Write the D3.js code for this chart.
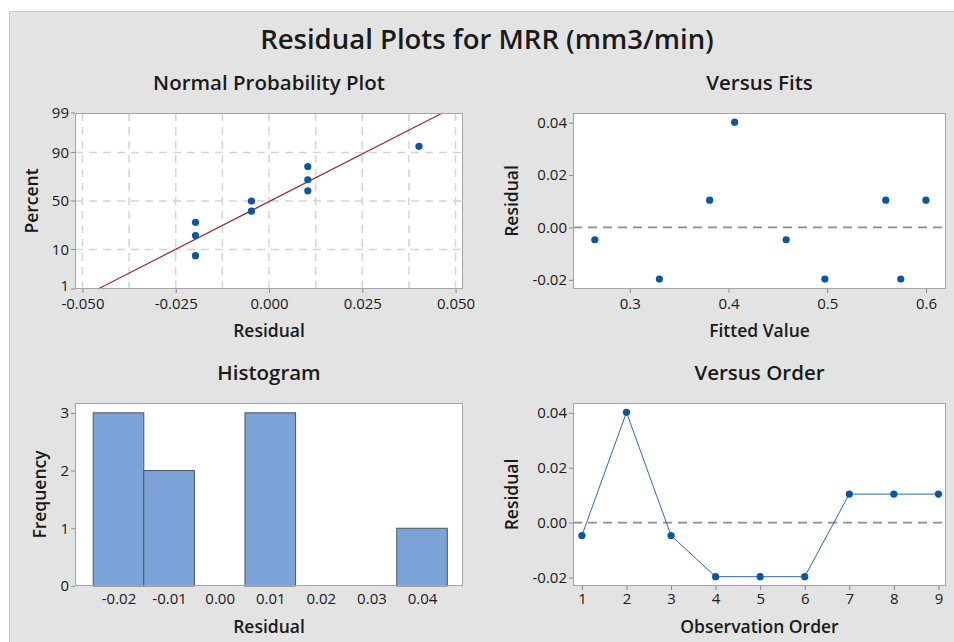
<!DOCTYPE html>
<html><head><meta charset="utf-8">
<script src="https://cdn.jsdelivr.net/npm/d3@7"></script>
<style>
body{margin:0;background:#fff;}
svg{display:block;font-family:"Open Sans",sans-serif;}
</style></head>
<body><svg id="c" width="954" height="642"></svg>
<script>
// ---- data ----
const observations = [1,2,3,4,5,6,7,8,9];
const residuals = [-0.0047, 0.0402, -0.0047, -0.0197, -0.0197, -0.0197, 0.0104, 0.0104, 0.0104];
const fits = [0.2646, 0.4062, 0.4584, 0.3300, 0.4976, 0.5745, 0.3809, 0.5593, 0.6000];
const nppPercent = [7.4, 18.1, 28.7, 39.4, 50.0, 60.6, 71.3, 81.9, 92.6];
const nppPercentTicks = [1, 10, 50, 90, 99];
const nppResidTicks = [-0.050, -0.025, 0.000, 0.025, 0.050];
const nppGridX = [-0.05, -0.0375, -0.025, -0.0125, 0, 0.0125, 0.025, 0.0375, 0.05];
const histBinCenters = [-0.02, -0.01, 0.00, 0.01, 0.02, 0.03, 0.04];
const histCounts = [3, 2, 0, 3, 0, 0, 1];
const histBinWidth = 0.01;
const freqTicks = [0, 1, 2, 3];
const residTicks = [-0.02, 0.00, 0.02, 0.04];
const fitTicks = [0.3, 0.4, 0.5, 0.6];

// inverse normal CDF (Acklam)
function qnorm(p){
  const a=[-3.969683028665376e+01,2.209460984245205e+02,-2.759285104469687e+02,1.383577518672690e+02,-3.066479806614716e+01,2.506628277459239e+00];
  const b=[-5.447609879822406e+01,1.615858368580409e+02,-1.556989798598866e+02,6.680131188771972e+01,-1.328068155288572e+01];
  const c=[-7.784894002430293e-03,-3.223964580411365e-01,-2.400758277161838e+00,-2.549732539343734e+00,4.374664141464968e+00,2.938163982698783e+00];
  const d=[7.784695709041462e-03,3.224671290700398e-01,2.445134137142996e+00,3.754408661907416e+00];
  const pl=0.02425;
  let q,r;
  if(p<pl){q=Math.sqrt(-2*Math.log(p));return (((((c[0]*q+c[1])*q+c[2])*q+c[3])*q+c[4])*q+c[5])/((((d[0]*q+d[1])*q+d[2])*q+d[3])*q+1);}
  if(p>1-pl){q=Math.sqrt(-2*Math.log(1-p));return -(((((c[0]*q+c[1])*q+c[2])*q+c[3])*q+c[4])*q+c[5])/((((d[0]*q+d[1])*q+d[2])*q+d[3])*q+1);}
  q=p-0.5;r=q*q;
  return (((((a[0]*r+a[1])*r+a[2])*r+a[3])*r+a[4])*r+a[5])*q/(((((b[0]*r+b[1])*r+b[2])*r+b[3])*r+b[4])*r+1);
}

const loc = d3.formatLocale({decimal:".",thousands:",",grouping:[3],currency:["",""],minus:"-"});
const svg = d3.select("#c");
const BG="#e3e3e3", PT="#0a56a0", TXT="#1a1a1a", TICKFS=15;
// background
svg.append("rect").attr("x",9).attr("y",11).attr("width",945).attr("height",631).attr("fill",BG);
svg.append("path").attr("d","M9.5,642V11.5H954").attr("fill","none").attr("stroke","#c6c6c6");

svg.append("text").attr("x",487).attr("y",49).attr("text-anchor","middle")
  .attr("font-size",27.5).attr("font-weight",600).attr("fill",TXT).text("Residual Plots for MRR (mm3/min)");

function panel(x0,x1,y0,y1,title){
  const g=svg.append("g");
  g.append("rect").attr("x",x0).attr("y",y0).attr("width",x1-x0).attr("height",y1-y0).attr("fill","#fff");
  g.append("text").attr("x",(x0+x1)/2).attr("y",y0-23).attr("text-anchor","middle")
    .attr("font-size",20.5).attr("font-weight",600).attr("fill",TXT).text(title);
  return g;
}
function border(g,x0,x1,y0,y1){
  g.append("rect").attr("x",x0+0.5).attr("y",y0+0.5).attr("width",x1-x0-1).attr("height",y1-y0-1)
   .attr("fill","none").attr("stroke","#a4a4a4");
}
function styleAxis(sel){
  sel.select(".domain").remove();
  sel.selectAll(".tick line").attr("stroke","#8a8a8a");
  sel.selectAll(".tick text").attr("fill",TXT).attr("font-size",TICKFS).attr("font-family","Open Sans, sans-serif");
}
function xLabel(g,x,y,t){g.append("text").attr("x",x).attr("y",y).attr("text-anchor","middle").attr("font-size",17.5).attr("font-weight",600).attr("fill",TXT).text(t);}
function yLabel(g,x,y,t){g.append("text").attr("transform",`translate(${x},${y}) rotate(-90)`).attr("text-anchor","middle").attr("font-size",17.5).attr("font-weight",600).attr("fill",TXT).text(t);}

// ---------- Normal probability plot ----------
{
  const X0=75,X1=463,Y0=113,Y1=289;
  const g=panel(X0,X1,Y0,Y1,"Normal Probability Plot");
  const x=d3.scaleLinear([-0.052,0.052],[X0,X1]);
  const y=d3.scaleLinear([qnorm(0.01),qnorm(0.99)],[Y1,Y0]);
  const yp=p=>y(qnorm(p/100));
  g.append("g").selectAll("line").data(nppGridX).join("line")
    .attr("x1",d=>x(d)).attr("x2",d=>x(d)).attr("y1",Y0).attr("y2",Y1)
    .attr("stroke","#d4d4d4").attr("stroke-width",1.5).attr("stroke-dasharray","8,6");
  g.append("g").selectAll("line").data(nppPercentTicks.filter(d=>d>1&&d<99)).join("line")
    .attr("x1",X0).attr("x2",X1).attr("y1",d=>yp(d)).attr("y2",d=>yp(d))
    .attr("stroke","#d4d4d4").attr("stroke-width",1.5).attr("stroke-dasharray","8,6");
  // fitted line
  const mean=d3.mean(residuals), sd=d3.deviation(residuals);
  const zs=[qnorm(0.01),qnorm(0.99)];
  g.append("line").attr("x1",x(mean+sd*zs[0])).attr("y1",y(zs[0])).attr("x2",x(mean+sd*zs[1])).attr("y2",y(zs[1]))
    .attr("stroke","#982e2e").attr("stroke-width",1.2);
  const sorted=residuals.slice().sort((a,b)=>a-b);
  g.append("g").selectAll("circle").data(sorted).join("circle")
    .attr("cx",d=>x(d)).attr("cy",(d,i)=>yp(nppPercent[i])).attr("r",3.6).attr("fill",PT);
  border(g,X0,X1,Y0,Y1);
  styleAxis(g.append("g").attr("transform",`translate(0,${Y1})`)
    .call(d3.axisBottom(x).tickValues(nppResidTicks).tickFormat(loc.format(".3f")).tickSize(4).tickPadding(5)));
  const ayg=g.append("g").attr("transform",`translate(${X0},0)`);
  ayg.selectAll("g").data(nppPercentTicks).join("g").attr("transform",d=>`translate(0,${yp(d)})`)
    .call(s=>{s.append("line").attr("x2",-4).attr("stroke","#8a8a8a");
      s.append("text").attr("x",-6).attr("dy",d=>d===1?"0.12em":"0.34em").attr("text-anchor","end").attr("font-size",TICKFS).attr("fill",TXT).text(d=>d);});
  xLabel(g,(X0+X1)/2,337,"Residual");
  yLabel(g,38,(Y0+Y1)/2,"Percent");
}

// ---------- Versus fits ----------
{
  const X0=573,X1=946,Y0=113,Y1=289;
  const g=panel(X0,X1,Y0,Y1,"Versus Fits");
  const x=d3.scaleLinear([0.2425,0.6203],[X0,X1]);
  const y=d3.scaleLinear([-0.0235,0.0437],[Y1,Y0]);
  g.append("line").attr("x1",X0).attr("x2",X1).attr("y1",y(0)).attr("y2",y(0))
    .attr("stroke","#8c8c8c").attr("stroke-width",1.8).attr("stroke-dasharray","9,6");
  g.append("g").selectAll("circle").data(observations).join("circle")
    .attr("cx",i=>x(fits[i-1])).attr("cy",i=>y(residuals[i-1])).attr("r",3.6).attr("fill",PT);
  border(g,X0,X1,Y0,Y1);
  styleAxis(g.append("g").attr("transform",`translate(0,${Y1})`)
    .call(d3.axisBottom(x).tickValues(fitTicks).tickFormat(loc.format(".1f")).tickSize(4).tickPadding(5)));
  styleAxis(g.append("g").attr("transform",`translate(${X0},0)`)
    .call(d3.axisLeft(y).tickValues(residTicks).tickFormat(loc.format(".2f")).tickSize(4).tickPadding(2)));
  xLabel(g,(X0+X1)/2,337,"Fitted Value");
  yLabel(g,518,(Y0+Y1)/2,"Residual");
}

// ---------- Histogram ----------
{
  const X0=75,X1=463,Y0=403,Y1=586;
  const g=panel(X0,X1,Y0,Y1,"Histogram");
  const x=d3.scaleLinear([-0.0286,0.0481],[X0,X1]);
  const y=d3.scaleLinear([0,3.17],[Y1,Y0]);
  g.append("g").selectAll("rect").data(histBinCenters.map((c,i)=>({c,n:histCounts[i]})).filter(d=>d.n>0)).join("rect")
    .attr("x",d=>x(d.c-histBinWidth/2)).attr("width",d=>x(d.c+histBinWidth/2)-x(d.c-histBinWidth/2))
    .attr("y",d=>y(d.n)).attr("height",d=>y(0)-y(d.n))
    .attr("fill","#7ba3d7").attr("stroke","#4f5560").attr("stroke-width",1);
  border(g,X0,X1,Y0,Y1);
  styleAxis(g.append("g").attr("transform",`translate(0,${Y1})`)
    .call(d3.axisBottom(x).tickValues(histBinCenters).tickFormat(loc.format(".2f")).tickSize(0).tickPadding(7)));
  styleAxis(g.append("g").attr("transform",`translate(${X0},0)`)
    .call(d3.axisLeft(y).tickValues(freqTicks).tickFormat(d3.format("d")).tickSize(4).tickPadding(2)));
  xLabel(g,(X0+X1)/2,633,"Residual");
  yLabel(g,46,(Y0+Y1)/2,"Frequency");
}

// ---------- Versus order ----------
{
  const X0=573,X1=946,Y0=403,Y1=586;
  const g=panel(X0,X1,Y0,Y1,"Versus Order");
  const x=d3.scaleLinear([0.8,9.17],[X0,X1]);
  const y=d3.scaleLinear([-0.0231,0.0436],[Y1,Y0]);
  g.append("line").attr("x1",X0).attr("x2",X1).attr("y1",y(0)).attr("y2",y(0))
    .attr("stroke","#8c8c8c").attr("stroke-width",1.8).attr("stroke-dasharray","9,6");
  g.append("path").datum(observations)
    .attr("d",d3.line().x(i=>x(i)).y(i=>y(residuals[i-1])))
    .attr("fill","none").attr("stroke","#2e6aa8").attr("stroke-width",1);
  g.append("g").selectAll("circle").data(observations).join("circle")
    .attr("cx",i=>x(i)).attr("cy",i=>y(residuals[i-1])).attr("r",3.6).attr("fill",PT);
  border(g,X0,X1,Y0,Y1);
  styleAxis(g.append("g").attr("transform",`translate(0,${Y1})`)
    .call(d3.axisBottom(x).tickValues(observations).tickFormat(d3.format("d")).tickSize(4).tickPadding(3)));
  styleAxis(g.append("g").attr("transform",`translate(${X0},0)`)
    .call(d3.axisLeft(y).tickValues(residTicks).tickFormat(loc.format(".2f")).tickSize(4).tickPadding(2)));
  xLabel(g,(X0+X1)/2,633,"Observation Order");
  yLabel(g,518,(Y0+Y1)/2,"Residual");
}
</script></body></html>
